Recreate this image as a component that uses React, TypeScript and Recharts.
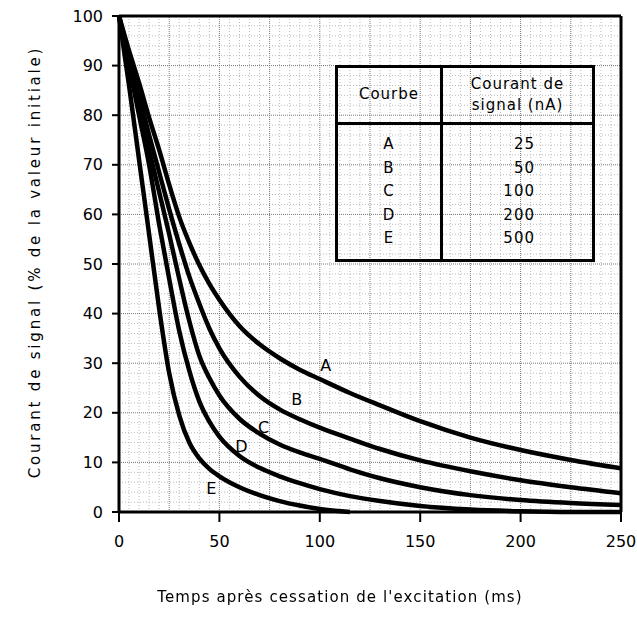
import React from "react";
import {
  LineChart,
  Line,
  XAxis,
  YAxis,
  ReferenceLine,
  ReferenceDot,
} from "recharts";

// temps (ms)
const times = [0, 5, 10, 15, 20, 25, 30, 35, 40, 45, 50, 60, 70, 80, 90, 100, 115, 130, 150, 175, 200, 225, 250];

// courant de signal (% de la valeur initiale)
const curveA = [100, 93, 86.5, 79.5, 73, 66, 59.5, 54.3, 49.8, 46, 42.8, 37.5, 33.8, 31, 28.7, 26.8, 24, 21.5, 18.3, 15, 12.5, 10.5, 8.8];
const curveB = [100, 92, 84, 76, 68.5, 61, 54, 47.5, 42, 37, 33, 27.3, 23.4, 20.7, 18.7, 17, 14.8, 12.7, 10.4, 8.2, 6.4, 5, 3.8];
const curveC = [100, 91, 82, 73, 64.5, 56, 47, 38.5, 31.5, 27, 23.5, 18.8, 15.8, 13.6, 12, 10.7, 8.6, 6.8, 5, 3.4, 2.4, 1.8, 1.4];
const curveD = [100, 90, 80, 70, 58, 47, 36.5, 28.5, 22.3, 18.2, 15.2, 11.3, 8.9, 7.2, 5.8, 4.6, 3.2, 2.2, 1.2, 0.5, 0.15, 0, 0];
const curveE = [100, 86, 71, 56, 41, 28, 19.5, 14, 10.8, 8.7, 7.2, 5, 3.4, 2.2, 1.3, 0.6, 0, null, null, null, null, null, null];

const curveNames = ["A", "B", "C", "D", "E"];
const signalCurrents = ["25", "50", "100", "200", "500"];
const labelTimes = [103, 88.5, 72, 61, 46];
const labelValues = [29.6, 22.6, 17.1, 13.3, 4.8];

const xTicks = [0, 50, 100, 150, 200, 250];
const yTicks = [0, 10, 20, 30, 40, 50, 60, 70, 80, 90, 100];

const series = [curveA, curveB, curveC, curveD, curveE];
const data = times.map((t, i) => {
  const row: any = { t };
  curveNames.forEach((n, k) => {
    row[n] = series[k][i];
  });
  return row;
});

const minorX = Array.from({ length: 51 }, (_, i) => i * 5);
const minorY = Array.from({ length: 51 }, (_, i) => i * 2);

const FONT = "'DejaVu Sans', sans-serif";

const CurveLabel = (props: any) => (
  <text
    x={props.cx}
    y={props.cy}
    textAnchor="middle"
    dominantBaseline="central"
    fontFamily={FONT}
    fontSize={16}
    fill="#000"
  >
    {props.name}
  </text>
);

const App = () => {
  return (
    <div
      style={{
        position: "fixed",
        top: 0,
        left: 0,
        width: 637,
        height: 630,
        background: "#fff",
        fontFamily: FONT,
      }}
    >
      <LineChart
        width={637}
        height={630}
        data={data}
        margin={{ top: 16, right: 16, bottom: 58, left: 0 }}
      >
        {minorX.map((x) => (
          <ReferenceLine
            key={"mx" + x}
            x={x}
            stroke={x % 25 === 0 ? "#777" : "#bbb"}
            strokeWidth={1}
            strokeDasharray={x % 25 === 0 ? "1 1" : "1 2"}
          />
        ))}
        {minorY.map((y) => (
          <ReferenceLine
            key={"my" + y}
            y={y}
            stroke={y % 10 === 0 ? "#777" : "#bbb"}
            strokeWidth={1}
            strokeDasharray={y % 10 === 0 ? "1 1" : "1 2"}
          />
        ))}
        <XAxis
          dataKey="t"
          type="number"
          domain={[0, 250]}
          ticks={xTicks}
          height={60}
          tickSize={10}
          tickMargin={14}
          axisLine={{ stroke: "#000", strokeWidth: 3 }}
          tickLine={{ stroke: "#000", strokeWidth: 2 }}
          tick={{ fontSize: 16, fill: "#000", fontFamily: FONT }}
        />
        <YAxis
          type="number"
          domain={[0, 100]}
          ticks={yTicks}
          width={119}
          tickSize={7}
          tickMargin={9}
          axisLine={{ stroke: "#000", strokeWidth: 3 }}
          tickLine={{ stroke: "#000", strokeWidth: 2 }}
          tick={{ fontSize: 16, fill: "#000", fontFamily: FONT }}
        />
        <ReferenceLine y={100} stroke="#000" strokeWidth={3} />
        <ReferenceLine x={250} stroke="#000" strokeWidth={3} />
        {curveNames.map((n) => (
          <Line
            key={n}
            type="monotone"
            dataKey={n}
            stroke="#000"
            strokeWidth={4.5}
            dot={false}
            isAnimationActive={false}
          />
        ))}
        {curveNames.map((n, k) => (
          <ReferenceDot
            key={"lbl" + n}
            x={labelTimes[k]}
            y={labelValues[k]}
            r={0}
            shape={(p: any) => <CurveLabel {...p} name={n} />}
          />
        ))}
      </LineChart>

      {/* tableau des courbes */}
      <div
        style={{
          position: "absolute",
          left: 335,
          top: 65,
          width: 254,
          height: 191,
          border: "3px solid #000",
          fontSize: 15,
          letterSpacing: 1,
          color: "#000",
        }}
      >
        <div style={{ position: "absolute", left: 102, top: 0, width: 3, height: 191, background: "#000" }} />
        <div style={{ position: "absolute", left: 0, top: 54, width: 254, height: 3, background: "#000" }} />
        <div style={{ position: "absolute", left: 0, top: 17, width: 102, textAlign: "center" }}>Courbe</div>
        <div style={{ position: "absolute", left: 105, top: 6, width: 149, textAlign: "center", lineHeight: "21px" }}>
          Courant de
          <br />
          signal (nA)
        </div>
        {curveNames.map((n, k) => (
          <div
            key={n}
            style={{
              position: "absolute",
              left: 0,
              top: 66 + k * 23.5,
              width: 102,
              textAlign: "center",
              lineHeight: "20px",
            }}
          >
            {n}
          </div>
        ))}
        {signalCurrents.map((v, k) => (
          <div
            key={v}
            style={{
              position: "absolute",
              left: 105,
              top: 66 + k * 23.5,
              width: 92,
              textAlign: "right",
              lineHeight: "20px",
            }}
          >
            {v}
          </div>
        ))}
      </div>

      <div
        style={{
          position: "absolute",
          left: 0,
          top: 588,
          width: 680,
          textAlign: "center",
          fontSize: 15,
          letterSpacing: 1.1,
          color: "#000",
        }}
      >
        Temps après cessation de l'excitation (ms)
      </div>
      <div
        style={{
          position: "absolute",
          left: 35,
          top: 262,
          transform: "translate(-50%, -50%) rotate(-90deg)",
          whiteSpace: "nowrap",
          fontSize: 15,
          letterSpacing: 2.8,
          color: "#000",
        }}
      >
        Courant de signal (% de la valeur initiale)
      </div>
    </div>
  );
};

export default App;
